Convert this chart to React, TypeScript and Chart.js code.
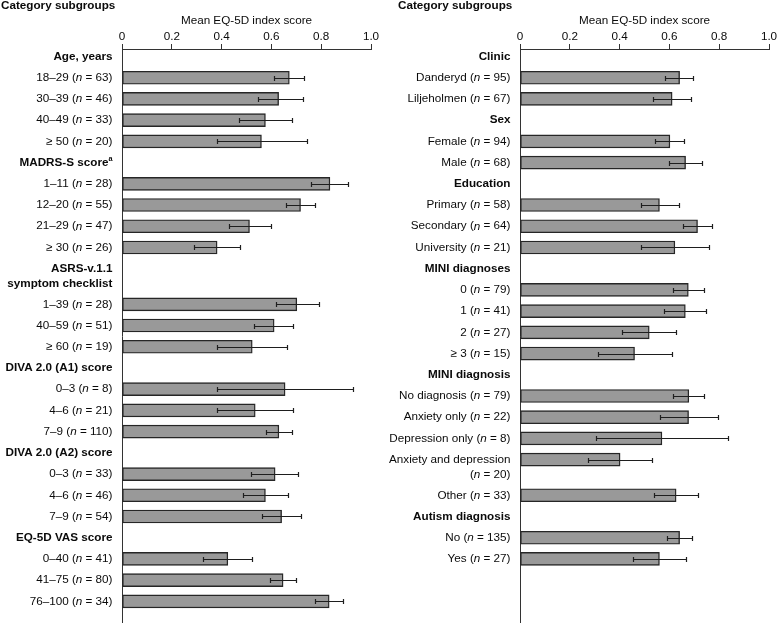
import React, { useEffect, useRef } from "react";
import { Chart, registerables } from "chart.js";

Chart.register(...registerables);

type Label = string | string[];

// ---------- Left panel data ----------
const leftLabels: Label[] = [
  "Age, years",
  "18–29 (n = 63)",
  "30–39 (n = 46)",
  "40–49 (n = 33)",
  "≥ 50 (n = 20)",
  "MADRS-S scoreᵃ",
  "1–11 (n = 28)",
  "12–20 (n = 55)",
  "21–29 (n = 47)",
  "≥ 30 (n = 26)",
  ["ASRS-v.1.1", "symptom checklist"],
  "1–39 (n = 28)",
  "40–59 (n = 51)",
  "≥ 60 (n = 19)",
  "DIVA 2.0 (A1) score",
  "0–3 (n = 8)",
  "4–6 (n = 21)",
  "7–9 (n = 110)",
  "DIVA 2.0 (A2) score",
  "0–3 (n = 33)",
  "4–6 (n = 46)",
  "7–9 (n = 54)",
  "EQ-5D VAS score",
  "0–40 (n = 41)",
  "41–75 (n = 80)",
  "76–100 (n = 34)",
];
const leftMeans: (number | null)[] = [
  null, 0.672, 0.629, 0.576, 0.56,
  null, 0.835, 0.717, 0.512, 0.382,
  null, 0.702, 0.611, 0.523,
  null, 0.655, 0.535, 0.63,
  null, 0.615, 0.576, 0.641,
  null, 0.425, 0.647, 0.832,
];
const leftLower: (number | null)[] = [
  null, 0.61, 0.547, 0.47, 0.381,
  null, 0.761, 0.658, 0.428, 0.29,
  null, 0.617, 0.532, 0.382,
  null, 0.383, 0.382, 0.578,
  null, 0.52, 0.484, 0.563,
  null, 0.327, 0.595, 0.776,
];
const leftUpper: (number | null)[] = [
  null, 0.731, 0.725, 0.684, 0.741,
  null, 0.909, 0.776, 0.598, 0.473,
  null, 0.791, 0.688, 0.664,
  null, 0.928, 0.686, 0.682,
  null, 0.708, 0.666, 0.72,
  null, 0.521, 0.698, 0.887,
];

// ---------- Right panel data ----------
const rightLabels: Label[] = [
  "Clinic",
  "Danderyd (n = 95)",
  "Liljeholmen (n = 67)",
  "Sex",
  "Female (n = 94)",
  "Male (n = 68)",
  "Education",
  "Primary (n = 58)",
  "Secondary (n = 64)",
  "University (n = 21)",
  "MINI diagnoses",
  "0 (n = 79)",
  "1 (n = 41)",
  "2 (n = 27)",
  "≥ 3 (n = 15)",
  "MINI diagnosis",
  "No diagnosis (n = 79)",
  "Anxiety only (n = 22)",
  "Depression only (n = 8)",
  ["Anxiety and depression", "(n = 20)"],
  "Other (n = 33)",
  "Autism diagnosis",
  "No (n = 135)",
  "Yes (n = 27)",
];
const rightMeans: (number | null)[] = [
  null, 0.641, 0.611,
  null, 0.602, 0.665,
  null, 0.56, 0.713, 0.622,
  null, 0.676, 0.664, 0.519, 0.46,
  null, 0.678, 0.677, 0.57, 0.402, 0.627,
  null, 0.641, 0.56,
];
const rightLower: (number | null)[] = [
  null, 0.584, 0.536,
  null, 0.543, 0.598,
  null, 0.485, 0.655, 0.487,
  null, 0.614, 0.579, 0.408, 0.314,
  null, 0.615, 0.562, 0.306, 0.273, 0.538,
  null, 0.592, 0.454,
];
const rightUpper: (number | null)[] = [
  null, 0.694, 0.688,
  null, 0.66, 0.731,
  null, 0.638, 0.771, 0.76,
  null, 0.737, 0.748, 0.626, 0.609,
  null, 0.739, 0.794, 0.834, 0.531, 0.714,
  null, 0.689, 0.665,
];

const xTicks = [0, 0.2, 0.4, 0.6, 0.8, 1.0];
const xTitle = "Mean EQ-5D index score";
const panelTitle = "Category subgroups";

// ---------- styling ----------
const FONT_FAMILY = "'Liberation Sans', Arial, Helvetica, sans-serif";
const FONT_SIZE = 11.7;
const TEXT_COLOR = "#0a0a0a";
const AXIS_COLOR = "#333333";
const ERR_COLOR = "#1e1e1e";
const LINE_GAP = 14.7;
const EXTRA_LINE_SLOT = 0.68;

function rowPositions(labels: Label[]): number[] {
  const pos: number[] = [];
  let p = 0;
  labels.forEach((l, i) => {
    if (i > 0) {
      const prev = labels[i - 1];
      p += 1 + (Array.isArray(prev) ? EXTRA_LINE_SLOT : 0);
    }
    pos.push(p);
  });
  return pos;
}

function drawRichRight(ctx: CanvasRenderingContext2D, text: string, x: number, y: number, bold: boolean) {
  const weight = bold ? "bold " : "";
  const normalFont = `${weight}${FONT_SIZE}px ${FONT_FAMILY}`;
  const italicFont = `italic ${weight}${FONT_SIZE}px ${FONT_FAMILY}`;
  const supFont = `${weight}${FONT_SIZE * 0.62}px ${FONT_FAMILY}`;
  type Seg = { t: string; font: string; dy: number };
  const segs: Seg[] = [];
  let body = text;
  let sup = "";
  if (body.endsWith("ᵃ")) {
    body = body.slice(0, -1);
    sup = "a";
  }
  const parts = body.split(/\bn\b/);
  parts.forEach((part, i) => {
    if (i > 0) segs.push({ t: "n", font: italicFont, dy: 0 });
    if (part) segs.push({ t: part, font: normalFont, dy: 0 });
  });
  if (sup) segs.push({ t: sup, font: supFont, dy: -4 });
  let total = 0;
  segs.forEach((s) => {
    ctx.font = s.font;
    total += ctx.measureText(s.t).width;
  });
  let cx = x - total;
  ctx.textAlign = "left";
  ctx.textBaseline = "middle";
  ctx.fillStyle = TEXT_COLOR;
  segs.forEach((s) => {
    ctx.font = s.font;
    ctx.fillText(s.t, cx, y + s.dy);
    cx += ctx.measureText(s.t).width;
  });
}

type PanelProps = {
  labels: Label[];
  means: (number | null)[];
  lower: (number | null)[];
  upper: (number | null)[];
  width: number;
  plotLeft: number;
  plotRight: number;
  titleX: number;
};

function Panel({ labels, means, lower, upper, width, plotLeft, plotRight, titleX }: PanelProps) {
  const ref = useRef<HTMLCanvasElement | null>(null);

  useEffect(() => {
    if (!ref.current) return;
    const pos = rowPositions(labels);
    const idx = means.map((m, i) => (m == null ? -1 : i)).filter((i) => i >= 0);
    const data = idx.map((i) => ({ x: means[i] as number, y: pos[i] }));

    const errorBars = {
      id: "errorBars",
      afterDatasetsDraw(chart: any) {
        const ctx = chart.ctx as CanvasRenderingContext2D;
        const xs = chart.scales.x;
        const meta = chart.getDatasetMeta(0);
        ctx.save();
        ctx.strokeStyle = ERR_COLOR;
        ctx.lineWidth = 1.2;
        meta.data.forEach((el: any, j: number) => {
          const i = idx[j];
          const lo = lower[i];
          const hi = upper[i];
          if (lo == null || hi == null) return;
          const y = Math.round(el.y) + 0.5;
          const x1 = Math.round(xs.getPixelForValue(lo)) + 0.5;
          const x2 = Math.round(xs.getPixelForValue(hi)) + 0.5;
          ctx.beginPath();
          ctx.moveTo(x1, y);
          ctx.lineTo(x2, y);
          ctx.moveTo(x1, y - 2.5);
          ctx.lineTo(x1, y + 2.5);
          ctx.moveTo(x2, y - 2.5);
          ctx.lineTo(x2, y + 2.5);
          ctx.stroke();
        });
        ctx.restore();
      },
    };

    const rowLabels = {
      id: "rowLabels",
      afterDraw(chart: any) {
        const ctx = chart.ctx as CanvasRenderingContext2D;
        const ys = chart.scales.y;
        const xr = chart.chartArea.left - 9.5;
        ctx.save();
        labels.forEach((l, i) => {
          const y = ys.getPixelForValue(pos[i]);
          const bold = means[i] == null;
          const lines = Array.isArray(l) ? l : [l];
          lines.forEach((line, k) => drawRichRight(ctx, line, xr, y + k * LINE_GAP, bold));
        });
        ctx.font = `bold ${FONT_SIZE}px ${FONT_FAMILY}`;
        ctx.textAlign = "left";
        ctx.textBaseline = "alphabetic";
        ctx.fillStyle = TEXT_COLOR;
        ctx.fillText(panelTitle, titleX, 8.5);
        ctx.restore();
      },
    };

    const chart = new Chart(ref.current, {
      type: "bar",
      data: {
        datasets: [
          {
            data: data as any,
            backgroundColor: "#999999",
            borderColor: "#262626",
            borderWidth: 1.4,
            borderSkipped: false,
            barThickness: 13,
          } as any,
        ],
      },
      options: {
        indexAxis: "y",
        responsive: false,
        animation: false,
        events: [],
        layout: { padding: { left: 0, right: width - plotRight, top: 0, bottom: 0 } },
        plugins: {
          legend: { display: false },
          tooltip: { enabled: false },
          title: { display: false },
        },
        scales: {
          x: {
            type: "linear",
            position: "top",
            min: 0,
            max: 1,
            afterBuildTicks: (axis: any) => {
              axis.ticks = xTicks.map((v) => ({ value: v }));
            },
            afterFit: (scale: any) => {
              scale.height = 49;
            },
            ticks: {
              color: TEXT_COLOR,
              font: { family: FONT_FAMILY, size: FONT_SIZE },
              padding: 0,
              maxRotation: 0,
              callback: (v: any) => (Number(v) === 0 ? "0" : Number(v).toFixed(1)),
            },
            grid: {
              display: true,
              drawOnChartArea: false,
              drawTicks: true,
              tickLength: 5,
              color: AXIS_COLOR,
            },
            border: { display: true, color: AXIS_COLOR, width: 1 },
            title: {
              display: true,
              text: xTitle,
              color: TEXT_COLOR,
              font: { family: FONT_FAMILY, size: FONT_SIZE },
              padding: { top: 14, bottom: 0 },
            },
          },
          y: {
            type: "linear",
            reverse: true,
            offset: false,
            min: -0.354,
            max: 26.7,
            afterFit: (scale: any) => {
              scale.width = plotLeft;
            },
            ticks: { display: false },
            grid: { display: false, offset: false },
            border: { display: true, color: AXIS_COLOR, width: 1 },
          },
        },
      } as any,
      plugins: [errorBars, rowLabels],
    });
    return () => chart.destroy();
  }, []);

  return <canvas ref={ref} width={width} height={623} style={{ display: "block", width, height: 623 }} />;
}

export default function App() {
  return (
    <div
      style={{
        position: "absolute",
        left: 0,
        top: 0,
        width: 777,
        height: 623,
        overflow: "hidden",
        background: "#ffffff",
      }}
    >
      <div style={{ position: "absolute", left: 0, top: 0 }}>
        <Panel
          labels={leftLabels}
          means={leftMeans}
          lower={leftLower}
          upper={leftUpper}
          width={388}
          plotLeft={122}
          plotRight={371}
          titleX={1}
        />
      </div>
      <div style={{ position: "absolute", left: 388, top: 0 }}>
        <Panel
          labels={rightLabels}
          means={rightMeans}
          lower={rightLower}
          upper={rightUpper}
          width={400}
          plotLeft={132}
          plotRight={381}
          titleX={10}
        />
      </div>
    </div>
  );
}
